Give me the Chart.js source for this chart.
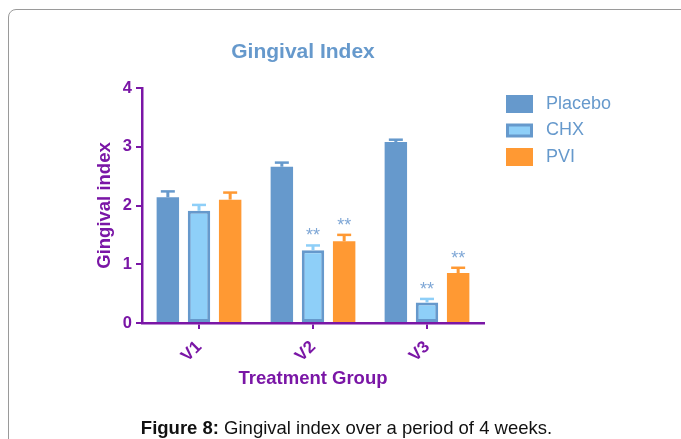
<!DOCTYPE html>
<html>
<head>
<meta charset="utf-8">
<script src="https://cdn.jsdelivr.net/npm/chart.js@4/dist/chart.umd.min.js"></script>
<style>
  html, body { margin: 0; padding: 0; background: #fff; }
  body { width: 681px; height: 439px; position: relative; overflow: hidden; font-family: Arial, "Liberation Sans", sans-serif; }
  .frame { position: absolute; left: 8px; top: 9px; width: 700px; height: 460px; border: 1px solid #9a9a9a; border-radius: 8px; }
  #wrap { position: absolute; left: 0; top: 0; width: 681px; height: 439px; }
  .caption { position: absolute; left: 0; width: 693px; top: 417px; text-align: center; font-size: 18.5px; color: #111; }
</style>
</head>
<body>
<div class="frame"></div>
<div id="wrap"><canvas id="chart"></canvas></div>
<div class="caption"><b>Figure 8:</b> Gingival index over a period of 4 weeks.</div>
<script>
const categories = ['V1', 'V2', 'V3'];
const placebo = [2.14, 2.66, 3.08];
const chx = [1.91, 1.24, 0.35];
const pvi = [2.10, 1.39, 0.85];
const placeboErr = [0.10, 0.07, 0.04];
const chxErr = [0.10, 0.08, 0.06];
const pviErr = [0.12, 0.11, 0.09];
// significance marks per bar
const chxSig = ['', '**', '**'];
const pviSig = ['', '**', '**'];
const yTicks = [0, 1, 2, 3, 4];

const purple = '#7a16a6';
const blue = '#6699cc';
const light = '#8ecff8';
const orange = '#ff9933';

const errorBars = {
    id: 'errorBars',
    afterDatasetsDraw(chart) {
        const ctx = chart.ctx;
        const y = chart.scales.y;
        chart.data.datasets.forEach((ds, i) => {
            const meta = chart.getDatasetMeta(i);
            meta.data.forEach((bar, j) => {
                const top = y.getPixelForValue(ds.data[j] + ds.err[j]);
                const base = bar.y;
                ctx.save();
                ctx.strokeStyle = ds.errColor;
                ctx.lineWidth = 3;
                ctx.beginPath();
                ctx.moveTo(bar.x, base);
                ctx.lineTo(bar.x, top);
                ctx.stroke();
                ctx.lineWidth = 2.5;
                ctx.beginPath();
                ctx.moveTo(bar.x - 7, top);
                ctx.lineTo(bar.x + 7, top);
                ctx.stroke();
                if (ds.sig && ds.sig[j]) {
                    ctx.fillStyle = '#7fa7d6';
                    ctx.font = '18px Arial';
                    ctx.textAlign = 'center';
                    ctx.textBaseline = 'middle';
                    ctx.fillText(ds.sig[j], bar.x, top - 9);
                }
                ctx.restore();
            });
        });
    }
};

const extras = {
    id: 'extras',
    afterDraw(chart) {
        const ctx = chart.ctx;
        ctx.save();
        ctx.fillStyle = blue;
        ctx.font = 'bold 21px Arial';
        ctx.textAlign = 'center';
        ctx.textBaseline = 'middle';
        ctx.fillText('Gingival Index', 303, 52);
        // legend
        ctx.font = '18px Arial';
        ctx.textAlign = 'left';
        chart.data.datasets.forEach((ds, i) => {
            const cy = 104 + i * 26.5;
            if (ds.borderWidth) {
                ctx.fillStyle = ds.borderColor;
                ctx.fillRect(506, cy - 7, 27, 14);
                ctx.fillStyle = ds.backgroundColor;
                ctx.fillRect(509, cy - 4, 21, 8);
            } else {
                ctx.fillStyle = ds.backgroundColor;
                ctx.fillRect(506, cy - 9, 27, 18);
            }
            ctx.fillStyle = blue;
            ctx.fillText(ds.label, 546, cy);
        });
        ctx.restore();
    }
};

new Chart(document.getElementById('chart'), {
    type: 'bar',
    data: {
        labels: categories,
        datasets: [
            { label: 'Placebo', data: placebo, err: placeboErr, errColor: blue, backgroundColor: blue, borderWidth: 0 },
            { label: 'CHX', data: chx, err: chxErr, sig: chxSig, errColor: light, backgroundColor: light, borderColor: blue, borderWidth: 3, borderSkipped: false },
            { label: 'PVI', data: pvi, err: pviErr, sig: pviSig, errColor: orange, backgroundColor: orange, borderWidth: 0 }
        ]
    },
    options: {
        responsive: true,
        maintainAspectRatio: false,
        animation: false,
        barPercentage: 0.72,
        categoryPercentage: 0.82,
        layout: { padding: { left: 0, right: 197, top: 88, bottom: 44 } },
        plugins: {
            legend: { display: false },
            title: { display: false },
            tooltip: { enabled: false }
        },
        scales: {
            x: {
                afterFit: (s) => { s.height = 72; },
                grid: { offset: false, drawOnChartArea: false, drawTicks: true, tickLength: 6, color: purple, lineWidth: 2 },
                border: { display: true, color: purple, width: 2.5 },
                ticks: { color: purple, font: { size: 17, weight: 'bold', family: 'Arial' }, minRotation: 45, maxRotation: 45, padding: 8 },
                title: { display: true, text: 'Treatment Group', color: purple, font: { size: 18.5, weight: 'bold', family: 'Arial' }, padding: { top: 0, bottom: 5 } }
            },
            y: {
                min: 0,
                max: 4,
                afterFit: (s) => { s.width = 142; },
                afterBuildTicks: (s) => { s.ticks = yTicks.map(v => ({ value: v })); },
                grid: { drawOnChartArea: false, drawTicks: true, tickLength: 6, color: purple, lineWidth: 2 },
                border: { display: true, color: purple, width: 2.5 },
                ticks: { color: purple, font: { size: 16.5, weight: 'bold', family: 'Arial' }, padding: 4 },
                title: { display: true, text: 'Gingival index', color: purple, font: { size: 18.5, weight: 'bold', family: 'Arial' }, padding: { top: 94, bottom: 0 } }
            }
        }
    },
    plugins: [errorBars, extras]
});
</script>
</body>
</html>
